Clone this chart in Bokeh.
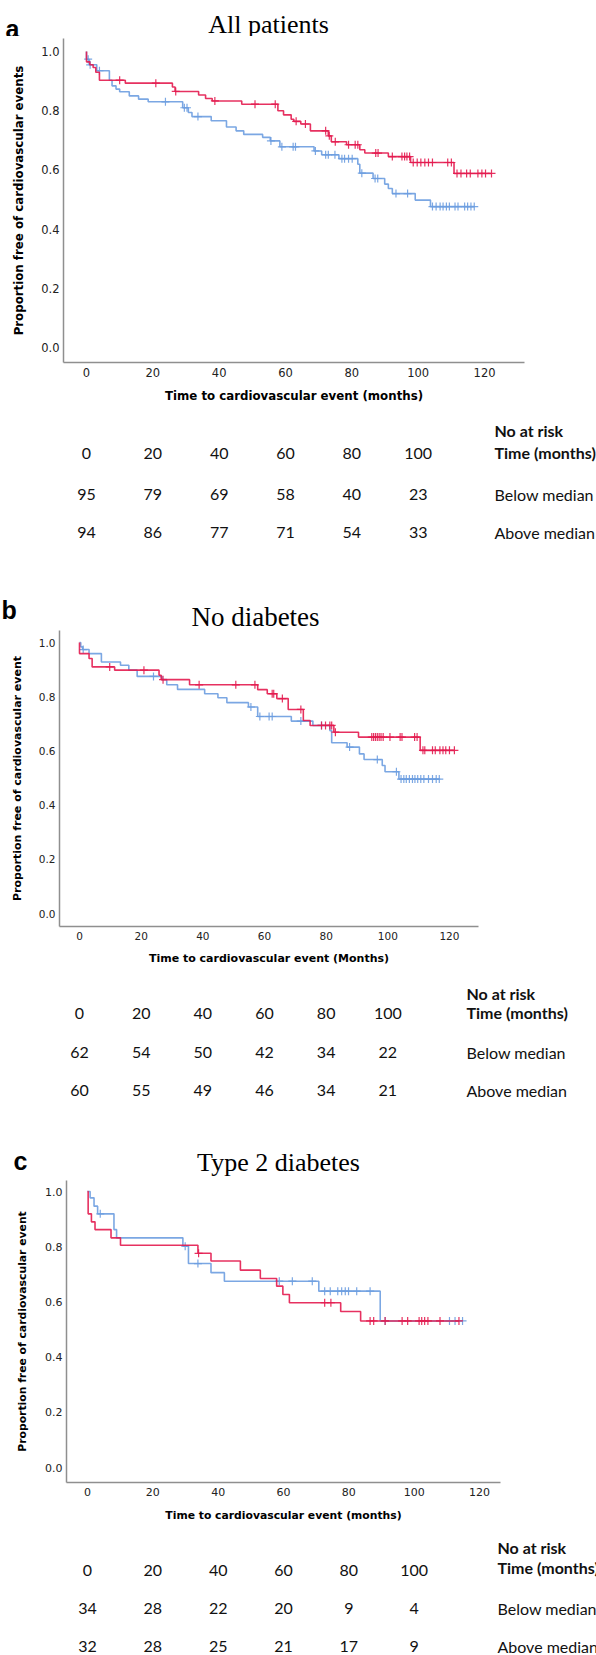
import numpy as np
from bokeh.plotting import figure
from bokeh.models import Range1d, FixedTicker, PrintfTickFormatter
from bokeh.layouts import column
from bokeh.embed import file_html
from bokeh.resources import INLINE
from bokeh.core.properties import value

RED = "#e31b4f"
BLUE = "#6d9de0"

# ---------------- data ----------------
# Panel a: All patients
a_blue_t = [0.0, 0.8, 3.1, 6.9, 7.7, 8.9, 10.0, 12.9, 15.7, 18.6, 29.0, 30.7, 31.8, 37.6, 42.2, 45.1,
            47.4, 53.1, 55.4, 58.3, 68.6, 70.9, 76.1, 81.8, 82.4, 86.4, 89.9, 91.0, 92.2, 99.1, 103.7]
a_blue_s = [0.974, 0.955, 0.935, 0.903, 0.884, 0.873, 0.864, 0.85, 0.839, 0.83, 0.81, 0.794, 0.78, 0.766,
            0.745, 0.732, 0.72, 0.71, 0.698, 0.678, 0.664, 0.651, 0.638, 0.619, 0.589, 0.571, 0.552, 0.537,
            0.52, 0.498, 0.476]
a_blue_c = [0.5, 1.1, 3.9, 23.8, 29.5, 30.3, 33.6, 55.6, 58.9, 62.3, 63.0, 69.0, 72.1, 72.9, 74.9, 77.0,
            77.8, 79.0, 80.1, 83.0, 87.0, 87.8, 93.3, 96.8, 104.3, 105.4, 106.6, 107.5, 108.5, 109.4, 111.1,
            112.0, 114.0, 114.9, 115.9, 116.9]
a_red_t = [0.0, 1.0, 2.0, 2.8, 3.9, 11.7, 25.9, 26.7, 33.8, 35.9, 37.9, 46.8, 57.7, 59.4, 61.7, 62.5,
           64.6, 67.5, 72.9, 73.8, 78.4, 82.4, 83.9, 91.0, 97.7, 110.8]
a_red_s = [0.965, 0.955, 0.946, 0.93, 0.903, 0.893, 0.88, 0.865, 0.853, 0.841, 0.833, 0.822, 0.80, 0.786,
           0.771, 0.764, 0.755, 0.732, 0.715, 0.695, 0.685, 0.668, 0.657, 0.645, 0.625, 0.588]
a_red_c = [10.0, 20.9, 26.9, 38.7, 50.8, 56.9, 63.2, 66.0, 72.1, 73.2, 75.0, 79.0, 81.0, 81.8, 87.2, 87.9,
           92.2, 95.1, 95.9, 96.6, 97.4, 98.5, 99.7, 100.8, 102.0, 103.1, 104.3, 108.9, 110.0, 111.7,
           112.9, 114.6, 115.7, 118.0, 119.2, 120.3, 122.1]

# Panel b: No diabetes
b_blue_t = [0.4, 1.0, 3.1, 7.1, 13.3, 16.0, 18.7, 26.8, 28.3, 31.8, 40.6, 44.9, 47.8, 54.8, 57.8, 68.7,
            75.7, 81.2, 81.8, 86.8, 90.8, 92.3, 98.2, 99.1, 103.6]
b_blue_s = [0.984, 0.974, 0.959, 0.928, 0.916, 0.898, 0.875, 0.863, 0.844, 0.827, 0.811, 0.796, 0.778,
            0.762, 0.727, 0.71, 0.694, 0.675, 0.63, 0.614, 0.589, 0.568, 0.546, 0.523, 0.496]
b_blue_c = [1.2, 24.0, 55.6, 58.5, 61.5, 62.5, 71.8, 78.5, 87.6, 96.6, 102.8, 104.3, 105.2, 106.0, 107.0,
            108.0, 108.8, 109.7, 110.7, 111.7, 113.2, 114.5, 115.7, 116.7]
b_red_t = [0.0, 3.1, 4.1, 11.4, 25.8, 26.5, 35.7, 57.8, 60.9, 64.0, 67.7, 72.6, 74.8, 82.5, 90.5, 110.5]
b_red_s = [0.959, 0.941, 0.91, 0.898, 0.879, 0.863, 0.844, 0.826, 0.811, 0.793, 0.753, 0.712, 0.694,
           0.669, 0.651, 0.602]
b_red_c = [9.8, 20.9, 27.1, 38.8, 50.7, 56.9, 62.5, 63.0, 65.8, 71.8, 78.5, 79.8, 81.2, 81.8, 83.0, 94.8,
           95.4, 96.0, 96.6, 97.2, 97.8, 98.5, 100.7, 104.0, 104.6, 108.7, 109.5, 111.4, 112.0, 114.5,
           115.4, 116.9, 117.9, 118.8, 120.0, 121.6]

# Panel c: Type 2 diabetes
c_blue_t = [0.8, 2.0, 3.1, 8.1, 8.9, 29.2, 30.9, 37.8, 41.9, 70.8, 89.6]
c_blue_s = [0.977, 0.947, 0.919, 0.862, 0.832, 0.802, 0.739, 0.706, 0.675, 0.639, 0.531]
c_blue_c = [3.9, 29.9, 33.8, 58.7, 62.7, 68.8, 72.6, 74.3, 76.6, 77.8, 78.9, 79.9, 82.4, 86.5, 91.1,
            110.8, 112.5, 114.8]
c_red_t = [0.2, 1.2, 2.3, 7.2, 10.1, 33.8, 37.8, 46.8, 52.9, 57.9, 59.8, 61.8, 77.5, 83.6]
c_red_s = [0.919, 0.89, 0.862, 0.832, 0.805, 0.776, 0.748, 0.715, 0.685, 0.657, 0.627, 0.597, 0.565, 0.531]
c_red_c = [34.0, 72.6, 74.5, 86.5, 87.6, 91.1, 96.3, 98.0, 101.5, 102.3, 103.2, 104.2, 107.9, 113.7]

# Numbers at risk
risk_times = [0, 20, 40, 60, 80, 100]
a_below = [95, 79, 69, 58, 40, 23]
a_above = [94, 86, 77, 71, 54, 33]
b_below = [62, 54, 50, 42, 34, 22]
b_above = [60, 55, 49, 46, 34, 21]
c_below = [34, 28, 22, 20, 9, 4]
c_above = [32, 28, 25, 21, 17, 9]

x_ticks = [0, 20, 40, 60, 80, 100, 120]
y_ticks = [0.0, 0.2, 0.4, 0.6, 0.8, 1.0]

# ---------------- layout constants (page pixels; page has no body margin) ----------------
W = 596


def blank(top, bot):
    p = figure(width=W, height=bot - top, x_range=Range1d(0, W), y_range=Range1d(bot, top),
               output_backend="svg", toolbar_location=None, min_border=0, title=None,
               x_axis_location=None, y_axis_location=None)
    p.grid.visible = False
    p.outline_line_color = None
    p.frame_align = False
    return p


def header(top, bot, letter, lx, lbase, title, tx, tbase, tsize):
    p = blank(top, bot)
    p.text(x=[lx], y=[lbase], text=[letter], text_font=value("Liberation Sans"),
           text_font_size=value("25px"), text_font_style="bold", text_baseline="alphabetic",
           text_color="black")
    p.text(x=[tx], y=[tbase], text=[title], text_font=value("Liberation Serif"),
           text_font_size=value(tsize), text_align="center", text_baseline="alphabetic",
           text_color="black")
    return p


def step_xy(t, s, c):
    end = max(max(c) if c else 0, max(t))
    xs = [0.0] + list(t) + [end]
    ys = [1.0] + list(s) + [s[-1]]
    return xs, ys


def censor_y(t, s, c):
    t = np.asarray(t)
    s = np.asarray([1.0] + list(s))
    idx = np.searchsorted(t, np.asarray(c), side="right")
    return s[idx]


def km(g, curves, xlabel, ylabel, tick_px, lab_px):
    x_range = Range1d((g["fl"] - g["x0"]) / g["ppm"], (g["fr"] - g["x0"]) / g["ppm"])
    span = g["y0"] - g["y1"]
    y_range = Range1d((g["y0"] - g["fb"]) / span, (g["y0"] - g["ft"]) / span)
    p = figure(width=W, height=g["bot"] - g["top"], x_range=x_range, y_range=y_range,
               output_backend="svg", toolbar_location=None, title=None,
               min_border_left=g["fl"], min_border_right=W - g["fr"],
               min_border_top=g["ft"] - g["top"], min_border_bottom=g["bot"] - g["fb"])
    p.frame_align = False
    p.grid.visible = False
    p.outline_line_color = None
    for t, s, c, col in curves:
        xs, ys = step_xy(t, s, c)
        p.step(xs, ys, mode="after", line_color=col, line_width=1.6, line_alpha=0.9)
        p.scatter(c, censor_y(t, s, c), marker="cross", size=8, line_color=col, line_width=1.2,
                  line_alpha=0.9)
    p.xaxis.ticker = FixedTicker(ticks=x_ticks)
    p.yaxis.ticker = FixedTicker(ticks=y_ticks)
    p.yaxis.formatter = PrintfTickFormatter(format="%.1f")
    for ax in (p.xaxis[0], p.yaxis[0]):
        ax.axis_line_color = "#8f8f8f"
        ax.axis_line_width = 1.5
        ax.major_tick_line_color = None
        ax.minor_tick_line_color = None
        ax.major_tick_out = 0
        ax.major_tick_in = 0
        ax.major_label_text_font = "DejaVu Sans"
        ax.major_label_text_font_size = tick_px
        ax.major_label_text_color = "#222222"
        ax.axis_label_text_font = "DejaVu Sans"
        ax.axis_label_text_font_size = lab_px
        ax.axis_label_text_font_style = "bold"
        ax.axis_label_text_color = "black"
    p.xaxis.axis_label = xlabel
    p.yaxis.axis_label = ylabel
    p.xaxis.major_label_standoff = g["xls"]
    p.yaxis.major_label_standoff = g["yls"]
    p.xaxis.axis_label_standoff = g["xas"]
    p.yaxis.axis_label_standoff = g["yas"]
    return p


def table(g, top, bot, rows_y, below, above, lab_x, head_y, time_y):
    p = figure(width=W, height=bot - top,
               x_range=Range1d((0 - g["x0"]) / g["ppm"], (W - g["x0"]) / g["ppm"]),
               y_range=Range1d(bot, top), output_backend="svg", toolbar_location=None,
               min_border=0, title=None, x_axis_location=None, y_axis_location=None)
    p.frame_align = False
    p.grid.visible = False
    p.outline_line_color = None
    font = value("Lato")
    fs = value("16px")
    for yy, vals in zip(rows_y, [risk_times, below, above]):
        p.text(x=risk_times, y=[yy] * len(risk_times), text=[str(v) for v in vals], text_font=font,
               text_font_size=fs, text_align="center", text_baseline="middle", text_color="#111111")
    lx = (lab_x - g["x0"]) / g["ppm"]
    p.text(x=[lx, lx], y=[head_y, time_y], text=["No at risk", "Time  (months)"], text_font=font,
           text_font_size=fs, text_font_style="bold", text_align="left", text_baseline="middle",
           text_color="#111111")
    p.text(x=[lx, lx], y=[rows_y[1], rows_y[2]], text=["Below median", "Above median"], text_font=font,
           text_font_size=fs, text_align="left", text_baseline="middle", text_color="#111111")
    return p


ga = dict(top=36, bot=410, fl=63, fr=524, ft=38, fb=362, x0=86, ppm=3.317, y1=51, y0=347,
          xls=5, yls=4, xas=9, yas=12)
gb = dict(top=628, bot=975, fl=59, fr=478, ft=630, fb=926, x0=79, ppm=3.083, y1=642, y0=913,
          xls=5, yls=4, xas=9, yas=12)
gc = dict(top=1176, bot=1530, fl=66, fr=500, ft=1180, fb=1482, x0=87, ppm=3.267, y1=1191, y0=1467,
          xls=5, yls=4, xas=10, yas=13)

head_a = header(0, 36, "a", 5, 28, "All patients", 268, 24, "26px")
plot_a = km(ga, [(a_blue_t, a_blue_s, a_blue_c, BLUE), (a_red_t, a_red_s, a_red_c, RED)],
            "Time to cardiovascular event (months)", "Proportion free of cardiovascular events",
            "11.5px", "11.8px")
tab_a = table(ga, 410, 584, [453, 494, 532], a_below, a_above, 494, 430, 452)

head_b = header(584, 628, "b", 1, 609, "No diabetes", 255, 616, "27px")
plot_b = km(gb, [(b_blue_t, b_blue_s, b_blue_c, BLUE), (b_red_t, b_red_s, b_red_c, RED)],
            "Time to cardiovascular event (Months)", "Proportion free of cardiovascular event",
            "10.5px", "11px")
tab_b = table(gb, 975, 1130, [1013, 1052, 1090], b_below, b_above, 466, 993, 1012)

head_c = header(1130, 1176, "c", 13, 1160, "Type 2 diabetes", 278, 1162, "26px")
plot_c = km(gc, [(c_blue_t, c_blue_s, c_blue_c, BLUE), (c_red_t, c_red_s, c_red_c, RED)],
            "Time to cardiovascular event (months)", "Proportion free of cardiovascular event",
            "11px", "10.8px")
tab_c = table(gc, 1530, 1655, [1570, 1608, 1646], c_below, c_above, 497, 1547, 1567)

layout = column(head_a, plot_a, tab_a, head_b, plot_b, tab_b, head_c, plot_c, tab_c, spacing=0)

with open("out.html", "w") as f:
    f.write(file_html(layout, INLINE))
